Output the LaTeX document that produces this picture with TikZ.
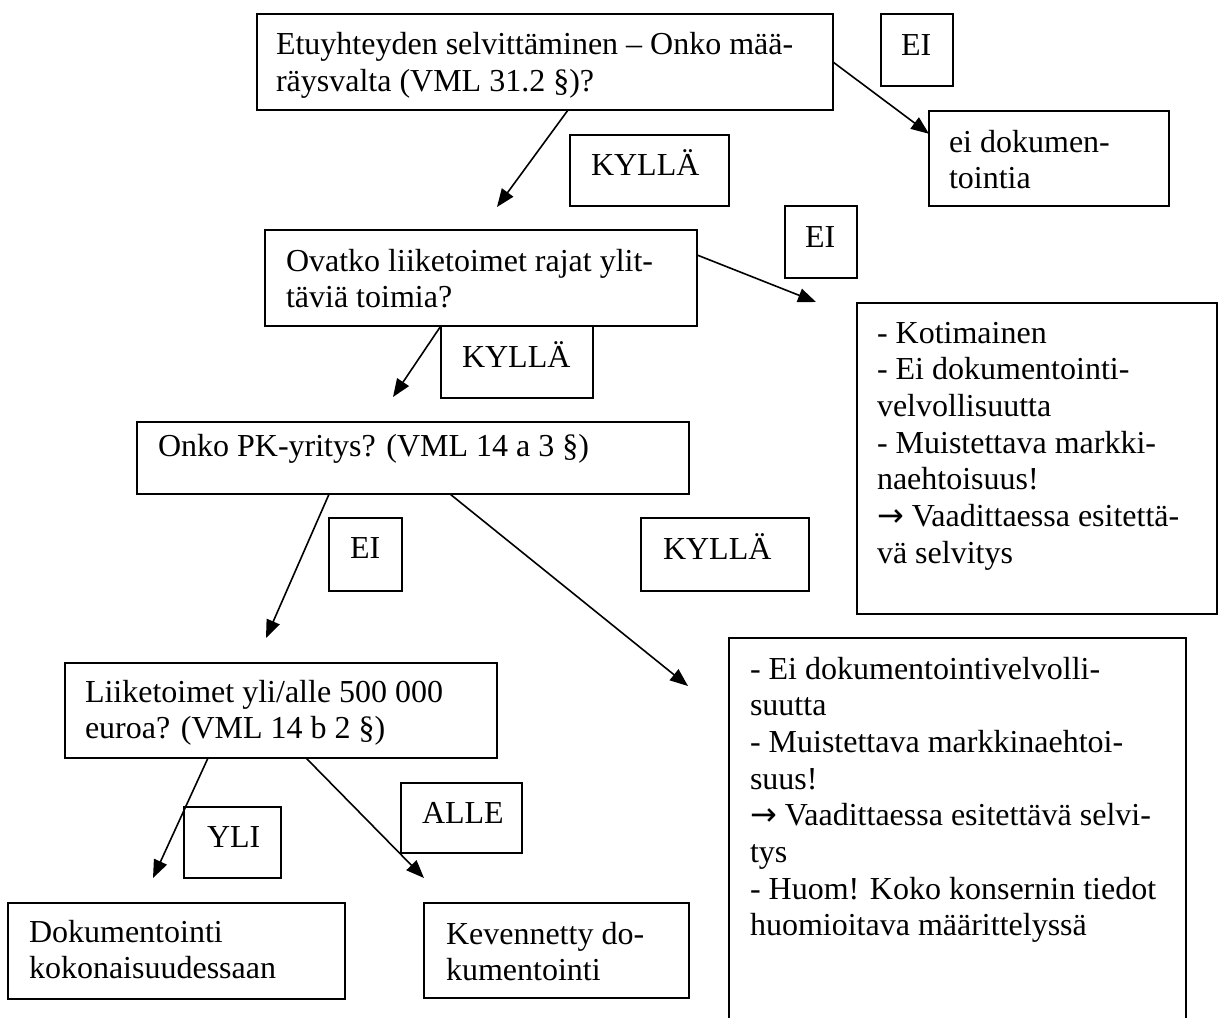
\documentclass[tikz,border=0pt]{standalone}
\usepackage{fontspec}
\setmainfont{Liberation Serif}
\newfontfamily\arrowfont{DejaVu Sans}
\usetikzlibrary{arrows.meta,calc}
\tikzset{
  box/.style={draw, line width=0.9pt, anchor=north west, inner ysep=0pt, outer sep=0pt,
    font=\fontsize{16}{18.35}\selectfont},
  arr/.style={line width=0.8pt, -{Triangle[length=9pt,width=7pt]}}
}
% #1 name, #2 x1, #3 y1, #4 x2, #5 y2 (px), #6 left pad (px), #7 first baseline offset (px), #8 text
\newcommand\mkbox[8]{%
  \pgfmathsetlengthmacro\mkbw{(#4-#2)*0.5pt-#6*1pt}%
  \pgfmathsetlengthmacro\mkbh{(#5-#3)*0.5pt}%
  \pgfmathsetlengthmacro\mkbt{#7*0.5pt-15pt}%
  \node[box,inner xsep=#6*0.5pt] (#1) at (#2,#3)
    {\parbox[c][\mkbh][t]{\mkbw}{\vspace*{\mkbt}\rule{0pt}{15pt}#8}};%
}
\newcommand\arw{{\arrowfont →}}
\begin{document}
\begin{tikzpicture}[x=0.5pt,y=-0.5pt]
\useasboundingbox (0,0) rectangle (1224,1017);
\clip (0,0) rectangle (1224,1017);

\mkbox{b1}{257}{14}{833}{110}{19}{41}{Etuyhteyden selvittäminen – Onko mää-\\räysvalta (VML 31.2~§)?}
\mkbox{ei1}{881}{14}{953}{86}{20}{41}{EI}
\mkbox{kyl1}{570}{135}{729}{206}{21}{40}{KYLLÄ}
\mkbox{eidok}{929}{111}{1169}{206}{20}{41}{ei dokumen-\\tointia}

\mkbox{b2}{265}{230}{697}{326}{21}{41}{Ovatko liiketoimet rajat ylit-\\täviä toimia?}
\mkbox{ei2}{785}{206}{857}{278}{20}{41}{EI}
\mkbox{kyl2}{441}{326}{593}{398}{21}{41}{KYLLÄ}
\mkbox{koti}{857}{303}{1217}{614}{20}{40}{- Kotimainen\\- Ei dokumentointi-\\velvollisuutta\\- Muistettava markki-\\naehtoisuus!\\\arw{} Vaadittaessa esitettä-\\vä selvitys}

\mkbox{b3}{137}{422}{689}{494}{21}{34}{Onko PK-yritys? (VML 14 a 3~§)}
\mkbox{ei3}{329}{518}{402}{591}{21}{40}{EI}
\mkbox{kyl3}{641}{518}{809}{591}{22}{41}{KYLLÄ}
\mkbox{big}{729}{638}{1186}{1040}{21}{41}{- Ei dokumentointivelvolli-\\suutta\\- Muistettava markkinaehtoi-\\suus!\\\arw{} Vaadittaessa esitettävä selvi-\\tys\\- Huom! Koko konsernin tiedot\\huomioitava määrittelyssä}

\mkbox{liike}{65}{663}{497}{758}{20}{39}{Liiketoimet yli/alle 500 000\\euroa? (VML 14 b 2~§)}
\mkbox{yli}{184}{807}{281}{878}{23}{40}{YLI}
\mkbox{alle}{401}{783}{522}{853}{21}{40}{ALLE}
\mkbox{dok}{8}{903}{345}{999}{21}{39}{Dokumentointi\\kokonaisuudessaan}
\mkbox{kev}{424}{903}{689}{998}{22}{41}{Kevennetty do-\\kumentointi}

\coordinate (t1) at (497,207);
\coordinate (t3) at (393,397);
\coordinate (t4) at (816,302);
\coordinate (t5) at (266,638);
\coordinate (t6) at (688,686);
\coordinate (t7) at (153,878);
\coordinate (t8) at (424,878);

\draw[arr] ($(b1.south west)!0.54!(b1.south east)$) -- (t1);
\draw[arr] (b1.east) -- ($(eidok.north west)!0.24!(eidok.south west)$);
\draw[arr] ($(b2.south west)!0.407!(b2.south east)$) -- (t3);
\draw[arr] ($(b2.north east)!0.26!(b2.south east)$) -- (t4);
\draw[arr] ($(b3.south west)!0.348!(b3.south east)$) -- (t5);
\draw[arr] ($(b3.south west)!0.567!(b3.south east)$) -- (t6);
\draw[arr] ($(liike.south west)!0.331!(liike.south east)$) -- (t7);
\draw[arr] ($(liike.south west)!0.558!(liike.south east)$) -- (t8);
\end{tikzpicture}
\end{document}
